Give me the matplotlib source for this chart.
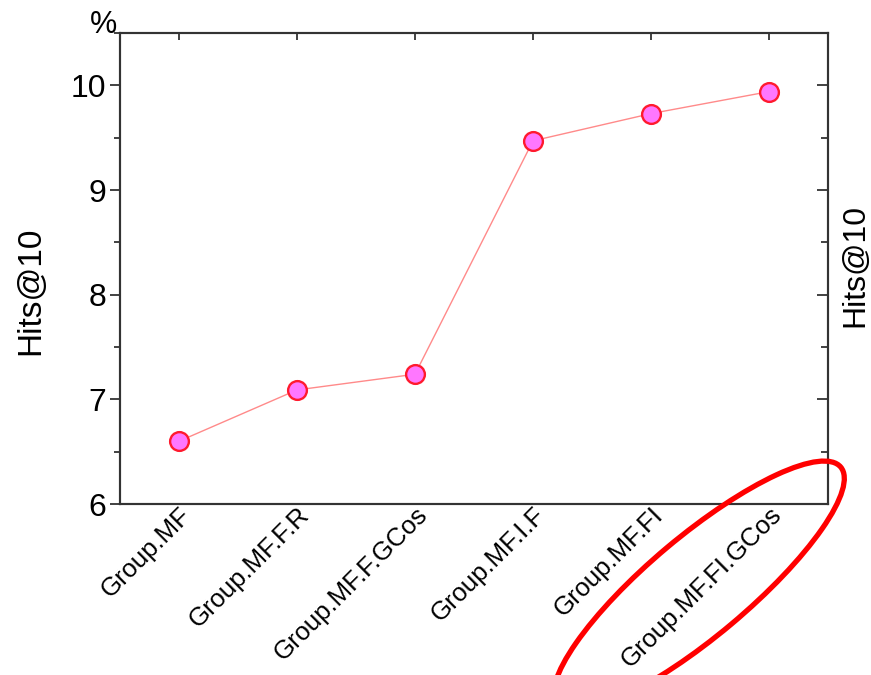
import matplotlib.pyplot as plt
from matplotlib.patches import Ellipse
from matplotlib.transforms import IdentityTransform
from matplotlib.ticker import MultipleLocator

plt.rcParams['font.family'] = ['Liberation Sans', 'DejaVu Sans']

# data
groups = ['Group.MF', 'Group.MF.F.R', 'Group.MF.F.GCos', 'Group.MF.I.F',
          'Group.MF.FI', 'Group.MF.FI.GCos']
hits10 = [6.60, 7.09, 7.24, 9.47, 9.73, 9.94]
y_ticks = [6, 7, 8, 9, 10]


def main():
    fig = plt.figure(figsize=(8.71, 6.75), dpi=100)
    ax = fig.add_axes([0.1378, 0.2533, 0.8128, 0.6978])

    x = range(len(groups))
    ax.plot(x, hits10, color='#ff8a8a', linewidth=1.0, zorder=2)
    ax.plot(x, hits10, linestyle='none', marker='o', markersize=13.5,
            markerfacecolor='#ff77ff', markeredgecolor='#ff1a2e',
            markeredgewidth=1.7, zorder=3)

    ax.set_xlim(-0.5, len(groups) - 0.5)
    ax.set_ylim(6, 10.5)
    ax.set_xticks(list(x))
    ax.set_xticklabels(groups, rotation=45, ha='right',
                       rotation_mode='anchor', fontsize=18.5)
    ax.set_yticks(y_ticks)
    ax.yaxis.set_minor_locator(MultipleLocator(0.5))
    ax.tick_params(axis='y', which='major', direction='out', length=7,
                   width=1.3, labelsize=23, color='#333333', pad=3)
    ax.tick_params(axis='y', which='minor', direction='out', length=4,
                   width=1.3, color='#333333')
    ax.tick_params(axis='x', bottom=False, top=True, direction='in',
                   length=5, width=1.3, color='#333333',
                   labelbottom=True, pad=-1)

    for s in ax.spines.values():
        s.set_linewidth(1.5)
        s.set_color('#333333')

    # right-hand axis: inward ticks, no numbers
    ax2 = ax.twinx()
    ax2.set_ylim(ax.get_ylim())
    ax2.set_yticks(y_ticks)
    ax2.yaxis.set_minor_locator(MultipleLocator(0.5))
    ax2.tick_params(axis='y', which='major', direction='in', length=8,
                    width=1.3, color='#333333', labelright=False)
    ax2.tick_params(axis='y', which='minor', direction='in', length=5,
                    width=1.3, color='#333333')
    for s in ax2.spines.values():
        s.set_linewidth(1.5)
        s.set_color('#333333')

    # axis titles placed where the original has them
    fig.text(31 / 871, 1 - 291 / 675, 'Hits@10', rotation=90, fontsize=24,
             ha='center', va='center')
    fig.text(855 / 871, 1 - 266 / 675, 'Hits@10', rotation=90, fontsize=23,
             ha='center', va='center')
    ax.text(-0.024, 1.0, '%', transform=ax.transAxes, fontsize=22,
            ha='center', va='baseline')

    # red highlight ellipse around the last label
    ell = Ellipse((699, 89), width=370, height=100, angle=40,
                  transform=IdentityTransform(), fill=False,
                  edgecolor='#ff0000', linewidth=3.8, clip_on=False)
    fig.patches.append(ell)

    fig.savefig('out.png', dpi=100)


if __name__ == '__main__':
    main()
